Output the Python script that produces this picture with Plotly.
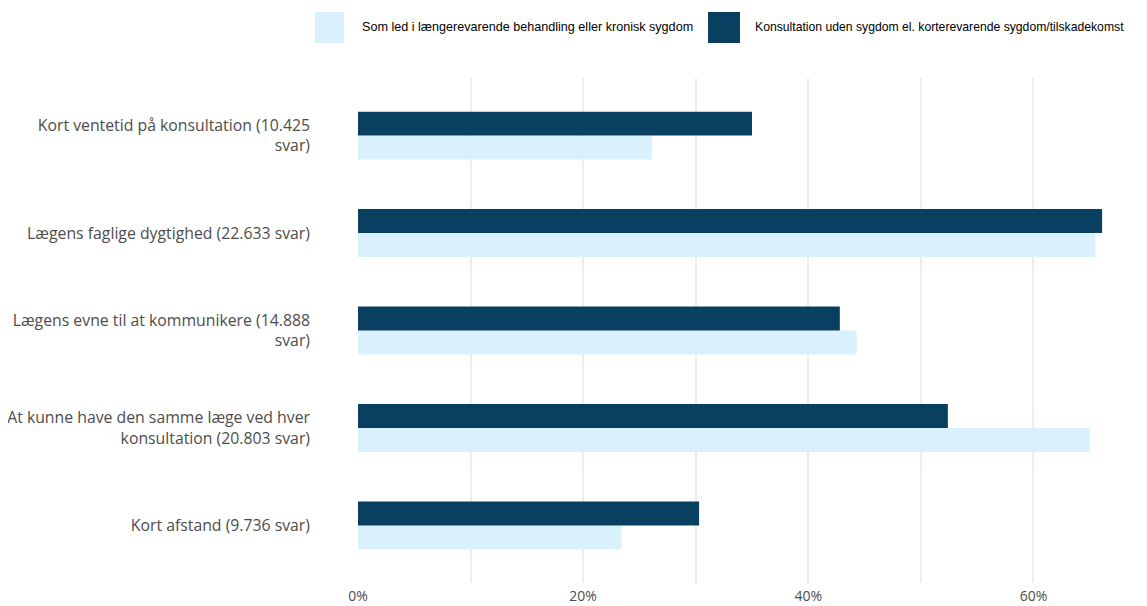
import plotly.graph_objects as go

categories = [
    "Kort afstand (9.736 svar)",
    "At kunne have den samme læge ved hver<br>konsultation (20.803 svar)",
    "Lægens evne til at kommunikere (14.888<br>svar)",
    "Lægens faglige dygtighed (22.633 svar)",
    "Kort ventetid på konsultation (10.425<br>svar)",
]
series_names = [
    "Som led i længerevarende behandling eller kronisk sygdom",
    "Konsultation uden sygdom el. korterevarende sygdom/tilskadekomst",
]
chronic = [0.234, 0.650, 0.443, 0.655, 0.261]
short_term = [0.303, 0.524, 0.428, 0.661, 0.350]
x_ticks = [0, 0.2, 0.4, 0.6]
x_tick_labels = ["0%", "20%", "40%", "60%"]

LIGHT = "#D9F0FD"
DARK = "#093F60"
OFFX, OFFY = 8, 8  # page body margin
W, H = 1147 - OFFX, 606 - OFFY
ML, MT, MB = 358 - OFFX, 78 - OFFY, 23
PW = 788
MR = W - ML - PW
PH = H - MT - MB

def px(x):
    return (x - OFFX - ML) / PW

def py(y):
    return 1 - (y - OFFY - MT) / PH

fig = go.Figure()
fig.add_trace(go.Bar(y=categories, x=chronic, orientation="h", name=series_names[0],
                     marker=dict(color=LIGHT, line=dict(width=0)), showlegend=False))
fig.add_trace(go.Bar(y=categories, x=short_term, orientation="h", name=series_names[1],
                     marker=dict(color=DARK, line=dict(width=0)), showlegend=False))

# custom legend
for (x0, x1, color), (tx, name, fs) in zip(
        [(315, 344, LIGHT), (708, 740, DARK)],
        [(360, series_names[0], 12.6), (753, series_names[1], 12.2)]):
    fig.add_shape(type="rect", xref="paper", yref="paper",
                  x0=px(x0), x1=px(x1), y0=py(43), y1=py(12),
                  fillcolor=color, line=dict(width=0))
    fig.add_annotation(xref="paper", yref="paper", x=px(tx), y=py(27.5),
                       xanchor="left", yanchor="middle", text=name, showarrow=False,
                       font=dict(family="Liberation Sans, Arial, sans-serif",
                                 size=fs, color="#000000"))

fig.update_layout(
    width=W, height=H,
    margin=dict(l=ML, r=MR, t=MT, b=MB, pad=0, autoexpand=False),
    barmode="group",
    bargap=0.51,
    bargroupgap=0,
    plot_bgcolor="white",
    paper_bgcolor="white",
    font=dict(family="Open Sans, sans-serif", color="#4D4D4D"),
    xaxis=dict(range=[0, 0.7], tickvals=x_ticks, ticktext=x_tick_labels,
               showgrid=True, gridcolor="#EDEDED", gridwidth=1.5,
               zeroline=False, showline=False, automargin=False,
               tickfont=dict(size=14, color="#4D4D4D"), ticks="", ticklen=0,
               ticklabelstandoff=3),
    yaxis=dict(range=[-0.59, 4.59], showgrid=False, zeroline=False, showline=False,
               automargin=False,
               tickfont=dict(size=15.8, color="#4D4D4D"), ticks="", ticklen=0,
               ticklabelstandoff=47),
)
# minor gridlines at 10% steps
fig.update_xaxes(minor=dict(tickvals=[0.1, 0.3, 0.5], showgrid=True, gridcolor="#EDEDED", gridwidth=1.5))

fig.write_html("out.html")
